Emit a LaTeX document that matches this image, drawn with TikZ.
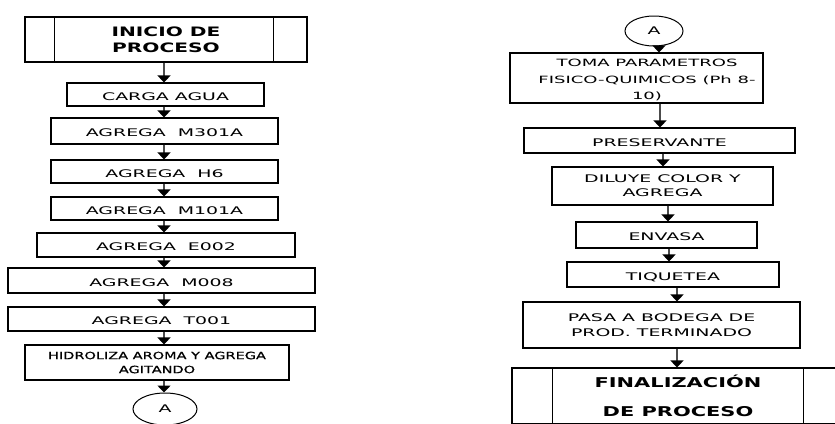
\documentclass[tikz,border=0pt]{standalone}
\usepackage{fontspec}
\setmainfont{DejaVu Sans}
\newfontfamily\regf{DejaVu Sans}[FakeStretch=1.8]
\newfontfamily\tightf{DejaVu Sans}[FakeStretch=1.45,FakeBold=0.6]
\newfontfamily\heavyf{DejaVu Sans Bold}[FakeStretch=1.55]
\usetikzlibrary{arrows.meta,shapes.geometric}

\tikzset{
  stepbox/.style={draw=black, line width=1.1pt, rectangle, inner sep=0pt,
    align=center, text=black, font=\regf\fontsize{10.5}{16}\selectfont},
  lowtext/.style={text height=11.5pt, text depth=0pt},
  endbox/.style={stepbox, font=\heavyf\fontsize{13}{16}\selectfont},
  connector/.style={draw=black, line width=1pt, ellipse, inner sep=0pt,
    minimum width=62pt, minimum height=30pt, text=black,
    font=\regf\fontsize{10.5}{12}\selectfont},
  flow/.style={draw=black!70, line width=1.6pt,
    -{Triangle[width=13pt,length=7pt,color=black]}},
  divider/.style={draw=black, line width=1.1pt}
}

\begin{document}
\begin{tikzpicture}[x=1pt,y=-1pt]
  \useasboundingbox (0,0) rectangle (835,423);
  \clip (0,0) rectangle (835,423);

  % ---- first column ----
  \node[endbox, minimum width=282pt, minimum height=45pt] (inicio) at (166,39.5)
    {INICIO DE\\PROCESO};
  \draw[divider] ([xshift=30pt]inicio.north west) -- ([xshift=30pt]inicio.south west);
  \draw[divider] ([xshift=-34pt]inicio.north east) -- ([xshift=-34pt]inicio.south east);

  \node[stepbox, lowtext, minimum width=197pt, minimum height=23pt] (carga) at (165.5,94.5) {CARGA AGUA};
  \node[stepbox, lowtext, minimum width=227pt, minimum height=26pt] (m301) at (164.5,131) {AGREGA\ \ M301A};
  \node[stepbox, lowtext, minimum width=227pt, minimum height=23pt] (h6) at (164.5,171.5) {AGREGA\ \ H6};
  \node[stepbox, lowtext, minimum width=227pt, minimum height=23pt] (m101) at (164.5,208.5) {AGREGA\ \ M101A};
  \node[stepbox, lowtext, minimum width=258pt, minimum height=24pt] (e002) at (166,245) {AGREGA\ \ E002};
  \node[stepbox, lowtext, minimum width=307pt, minimum height=25pt] (m008) at (161.5,280.5) {AGREGA\ \ M008};
  \node[stepbox, lowtext, minimum width=307pt, minimum height=24pt] (t001) at (161.5,319) {AGREGA\ \ T001};
  \node[stepbox, minimum width=264pt, minimum height=35pt,
        font=\tightf\fontsize{10}{14}\selectfont] (hidro) at (157,362.5)
    {HIDROLIZA AROMA Y AGREGA\\AGITANDO};
  \node[connector, minimum width=64pt, minimum height=32pt] (a1) at (165,409) {A};

  \coordinate (lx) at (164,0);
  \draw[flow] (inicio.south -| lx) -- (carga.north -| lx);
  \draw[flow] (carga.south -| lx) -- (m301.north -| lx);
  \draw[flow] (m301.south -| lx) -- (h6.north -| lx);
  \draw[flow] (h6.south -| lx) -- (m101.north -| lx);
  \draw[flow] (m101.south -| lx) -- (e002.north -| lx);
  \draw[flow] (e002.south -| lx) -- (m008.north -| lx);
  \draw[flow] (m008.south -| lx) -- (t001.north -| lx);
  \draw[flow] (t001.south -| lx) -- (hidro.north -| lx);
  \draw[flow] (hidro.south -| lx) -- (a1.north -| lx);

  % ---- second column ----
  \node[connector, minimum width=58pt, minimum height=30pt] (a2) at (654,31) {A};
  \node[stepbox, minimum width=253pt, minimum height=50pt] (toma) at (636.5,78) {};
  \node[align=center, inner sep=0pt, text=black,
        font=\regf\fontsize{10}{16.5}\selectfont] (tomatext) at (647,80)
    {TOMA PARAMETROS\\FISICO-QUIMICOS (Ph 8-\\10)};
  \node[stepbox, lowtext, minimum width=271pt, minimum height=25pt] (pres) at (659.5,140.5) {PRESERVANTE};
  \node[stepbox, minimum width=221pt, minimum height=38pt,
        font=\regf\fontsize{10.5}{14}\selectfont] (diluye) at (662.5,186)
    {DILUYE COLOR Y\\AGREGA};
  \node[stepbox, lowtext, minimum width=181pt, minimum height=26pt] (envasa) at (666.5,235) {ENVASA};
  \node[stepbox, lowtext, minimum width=212pt, minimum height=25pt] (tiq) at (673,274.5) {TIQUETEA};
  \node[stepbox, minimum width=277pt, minimum height=46pt,
        font=\regf\fontsize{10.5}{15}\selectfont] (pasa) at (661.5,325)
    {PASA A BODEGA DE\\PROD. TERMINADO};
  \node[endbox, minimum width=332pt, minimum height=56pt,
        font=\heavyf\fontsize{13.5}{28.5}\selectfont] (fin) at (678,396)
    {FINALIZACIÓN\\DE PROCESO};
  \draw[divider] ([xshift=41pt]fin.north west) -- ([xshift=41pt]fin.south west);
  \draw[divider] ([xshift=-41pt]fin.north east) -- ([xshift=-41pt]fin.south east);

  \coordinate (r1) at (659,0);
  \coordinate (r2) at (660,0);
  \coordinate (r3) at (663,0);
  \coordinate (r4) at (668,0);
  \coordinate (r5) at (669,0);
  \coordinate (r6) at (677,0);
  \draw[flow] (a2.south -| r1) -- (toma.north -| r1);
  \draw[flow] (toma.south -| r2) -- (pres.north -| r2);
  \draw[flow] (pres.south -| r3) -- (diluye.north -| r3);
  \draw[flow] (diluye.south -| r4) -- (envasa.north -| r4);
  \draw[flow] (envasa.south -| r5) -- (tiq.north -| r5);
  \draw[flow] (tiq.south -| r6) -- (pasa.north -| r6);
  \draw[flow] (pasa.south -| r6) -- (fin.north -| r6);
\end{tikzpicture}
\end{document}
